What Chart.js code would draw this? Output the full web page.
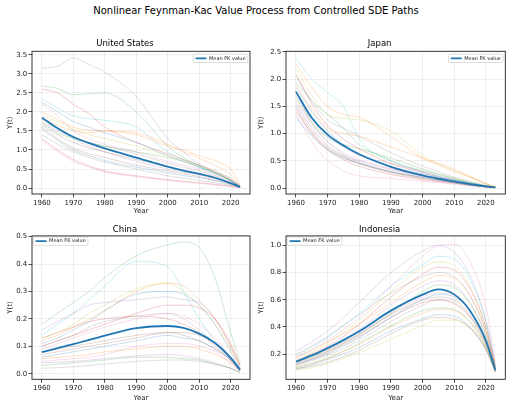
<!DOCTYPE html>
<html>
<head>
<meta charset="utf-8">
<script src="https://cdn.jsdelivr.net/npm/chart.js@4.4.1/dist/chart.umd.min.js"></script>
<style>
  body { margin: 0; background: #fff; width: 512px; height: 407px; position: relative; overflow: hidden; font-family: "DejaVu Sans", sans-serif; }
  #title { position: absolute; left: 0; top: 3px; width: 512px; text-align: center; font-size: 10px; line-height: 16px; color: #000; }
  canvas { position: absolute; }
</style>
</head>
<body>
<div id="title">Nonlinear Feynman-Kac Value Process from Controlled SDE Paths</div>
<canvas id="us" width="256" height="186" style="left:0;top:34px"></canvas>
<canvas id="jp" width="258" height="186" style="left:254px;top:34px"></canvas>
<canvas id="cn" width="256" height="186" style="left:0;top:220px"></canvas>
<canvas id="id" width="258" height="186" style="left:254px;top:220px"></canvas>
<script>
// sample years shared by every path
const years = [1960, 1965, 1970, 1975, 1980, 1990, 2000, 2005, 2010, 2015, 2020, 2023];
const xTicks = [1960, 1970, 1980, 1990, 2000, 2010, 2020];

const usTicks = [0, 0.5, 1, 1.5, 2, 2.5, 3, 3.5];
const jpTicks = [0, 0.5, 1, 1.5, 2, 2.5];
const cnTicks = [0, 0.1, 0.2, 0.3, 0.4, 0.5];
const idTicks = [0.2, 0.4, 0.6, 0.8, 1.0];

// United States
const usMean = [1.85, 1.57, 1.34, 1.18, 1.04, 0.80, 0.56, 0.46, 0.37, 0.27, 0.13, 0.03];
const usPaths = [
  [2.25, 2.0, 1.75, 1.6, 1.45, 1.2, 0.85, 0.7, 0.55, 0.4, 0.2, 0.04],
  [2.0, 1.8, 1.6, 1.52, 1.5, 1.4, 1.1, 1.0, 0.85, 0.72, 0.5, 0.1],
  [2.68, 2.62, 2.45, 2.48, 2.5, 2.0, 1.1, 0.8, 0.6, 0.4, 0.2, 0.04],
  [2.6, 2.5, 2.2, 1.95, 1.6, 1.2, 0.9, 0.75, 0.6, 0.42, 0.22, 0.05],
  [3.15, 3.2, 3.42, 3.25, 3.05, 2.4, 1.3, 0.95, 0.62, 0.45, 0.25, 0.05],
  [1.65, 1.4, 1.2, 1.05, 0.95, 0.75, 0.55, 0.45, 0.35, 0.25, 0.12, 0.02],
  [2.2, 1.9, 1.5, 1.3, 1.15, 0.95, 0.7, 0.6, 0.5, 0.35, 0.18, 0.03],
  [1.75, 1.55, 1.35, 1.2, 1.1, 0.9, 0.65, 0.55, 0.45, 0.32, 0.16, 0.03],
  [1.9, 1.75, 1.55, 1.4, 1.3, 1.1, 0.85, 0.72, 0.6, 0.45, 0.25, 0.05],
  [2.35, 2.1, 1.9, 1.82, 1.78, 1.6, 0.95, 0.75, 0.55, 0.38, 0.2, 0.04],
  [1.55, 1.25, 1.0, 0.85, 0.72, 0.55, 0.4, 0.33, 0.27, 0.2, 0.1, 0.02],
  [1.8, 1.65, 1.5, 1.45, 1.5, 1.45, 1.15, 0.95, 0.78, 0.6, 0.35, 0.06],
  [1.7, 1.45, 1.3, 1.2, 1.1, 0.95, 0.8, 0.7, 0.55, 0.4, 0.2, 0.04],
  [1.3, 1.0, 0.75, 0.58, 0.45, 0.32, 0.22, 0.18, 0.14, 0.1, 0.05, 0.01],
  [1.7, 1.5, 1.3, 1.1, 0.95, 0.7, 0.5, 0.42, 0.35, 0.25, 0.12, 0.02],
  [1.6, 1.3, 1.05, 0.9, 0.8, 0.6, 0.45, 0.38, 0.3, 0.2, 0.1, 0.02],
  [1.25, 0.95, 0.7, 0.55, 0.42, 0.3, 0.2, 0.16, 0.12, 0.08, 0.04, 0.01],
  [1.4, 1.15, 0.95, 0.8, 0.68, 0.5, 0.32, 0.26, 0.2, 0.14, 0.07, 0.01]
];

// Japan
const jpMean = [1.77, 1.29, 0.98, 0.78, 0.62, 0.39, 0.23, 0.17, 0.12, 0.07, 0.03, 0.01];
const jpPaths = [
  [1.85, 1.4, 1.05, 0.8, 0.62, 0.4, 0.26, 0.2, 0.14, 0.08, 0.03, 0.01],
  [2.28, 1.85, 1.5, 1.35, 1.3, 0.95, 0.55, 0.42, 0.3, 0.2, 0.08, 0.02],
  [1.95, 1.6, 1.35, 1.1, 0.8, 0.5, 0.32, 0.25, 0.17, 0.1, 0.04, 0.01],
  [2.1, 1.55, 1.15, 0.9, 0.72, 0.45, 0.28, 0.2, 0.14, 0.08, 0.03, 0.01],
  [1.7, 1.25, 0.95, 0.75, 0.6, 0.45, 0.3, 0.22, 0.15, 0.09, 0.04, 0.01],
  [1.5, 1.05, 0.75, 0.58, 0.45, 0.28, 0.17, 0.13, 0.09, 0.05, 0.02, 0.01],
  [1.6, 1.15, 0.85, 0.65, 0.52, 0.35, 0.22, 0.17, 0.12, 0.07, 0.03, 0.01],
  [1.75, 1.2, 0.85, 0.62, 0.48, 0.3, 0.19, 0.14, 0.1, 0.06, 0.02, 0.01],
  [2.2, 1.7, 1.35, 1.28, 1.25, 1.05, 0.6, 0.45, 0.32, 0.2, 0.08, 0.02],
  [2.38, 2.0, 1.75, 1.5, 0.9, 0.5, 0.3, 0.22, 0.15, 0.09, 0.04, 0.01],
  [1.3, 0.95, 0.7, 0.55, 0.45, 0.3, 0.2, 0.15, 0.1, 0.06, 0.02, 0.01],
  [1.9, 1.45, 1.1, 1.0, 0.95, 0.75, 0.55, 0.45, 0.35, 0.22, 0.08, 0.02],
  [1.65, 1.2, 0.92, 0.8, 0.72, 0.55, 0.35, 0.26, 0.18, 0.1, 0.04, 0.01],
  [1.45, 1.0, 0.7, 0.52, 0.4, 0.25, 0.15, 0.12, 0.09, 0.05, 0.02, 0.01],
  [1.55, 1.1, 0.78, 0.6, 0.5, 0.34, 0.22, 0.16, 0.11, 0.06, 0.02, 0.01],
  [1.4, 1.0, 0.72, 0.56, 0.45, 0.3, 0.19, 0.15, 0.11, 0.06, 0.02, 0.01],
  [1.35, 0.85, 0.5, 0.32, 0.22, 0.18, 0.12, 0.1, 0.07, 0.04, 0.02, 0.01],
  [2.05, 1.6, 1.25, 1.1, 0.95, 0.65, 0.4, 0.3, 0.2, 0.12, 0.05, 0.01]
];

// China
const cnMean = [0.079, 0.093, 0.108, 0.123, 0.139, 0.166, 0.174, 0.167, 0.146, 0.112, 0.058, 0.015];
const cnPaths = [
  [0.06, 0.07, 0.08, 0.09, 0.1, 0.12, 0.14, 0.13, 0.12, 0.09, 0.05, 0.01],
  [0.12, 0.14, 0.17, 0.2, 0.23, 0.3, 0.33, 0.32, 0.27, 0.2, 0.1, 0.03],
  [0.18, 0.22, 0.26, 0.3, 0.35, 0.43, 0.47, 0.48, 0.46, 0.35, 0.15, 0.04],
  [0.1, 0.12, 0.14, 0.16, 0.18, 0.22, 0.25, 0.25, 0.24, 0.2, 0.11, 0.03],
  [0.16, 0.19, 0.22, 0.25, 0.26, 0.27, 0.28, 0.27, 0.26, 0.2, 0.1, 0.03],
  [0.07, 0.08, 0.09, 0.1, 0.11, 0.13, 0.15, 0.14, 0.12, 0.09, 0.05, 0.01],
  [0.09, 0.11, 0.13, 0.15, 0.17, 0.2, 0.22, 0.21, 0.18, 0.13, 0.06, 0.02],
  [0.1, 0.12, 0.14, 0.17, 0.19, 0.21, 0.22, 0.2, 0.16, 0.11, 0.05, 0.01],
  [0.13, 0.15, 0.18, 0.22, 0.25, 0.31, 0.33, 0.3, 0.25, 0.18, 0.09, 0.03],
  [0.14, 0.18, 0.22, 0.27, 0.32, 0.41, 0.39, 0.3, 0.2, 0.12, 0.06, 0.02],
  [0.11, 0.13, 0.16, 0.19, 0.23, 0.29, 0.3, 0.29, 0.25, 0.18, 0.08, 0.02],
  [0.055, 0.06, 0.065, 0.07, 0.08, 0.09, 0.1, 0.1, 0.09, 0.07, 0.04, 0.01],
  [0.03, 0.035, 0.04, 0.045, 0.05, 0.06, 0.06, 0.055, 0.05, 0.035, 0.02, 0.005],
  [0.13, 0.15, 0.17, 0.19, 0.2, 0.21, 0.2, 0.18, 0.15, 0.1, 0.05, 0.01],
  [0.04, 0.042, 0.045, 0.05, 0.055, 0.065, 0.07, 0.065, 0.055, 0.04, 0.02, 0.005],
  [0.08, 0.09, 0.1, 0.11, 0.12, 0.14, 0.15, 0.15, 0.14, 0.11, 0.06, 0.015],
  [0.045, 0.05, 0.055, 0.06, 0.07, 0.1, 0.11, 0.11, 0.1, 0.08, 0.04, 0.01],
  [0.02, 0.022, 0.025, 0.03, 0.035, 0.045, 0.05, 0.05, 0.045, 0.035, 0.02, 0.005]
];

// Indonesia
const idMean = [0.144, 0.19, 0.244, 0.303, 0.368, 0.52, 0.638, 0.677, 0.64, 0.52, 0.30, 0.082];
const idPaths = [
  [0.12, 0.16, 0.2, 0.26, 0.32, 0.47, 0.6, 0.64, 0.62, 0.52, 0.3, 0.08],
  [0.18, 0.23, 0.29, 0.35, 0.42, 0.58, 0.73, 0.78, 0.76, 0.63, 0.37, 0.1],
  [0.13, 0.17, 0.22, 0.28, 0.34, 0.5, 0.66, 0.71, 0.69, 0.57, 0.33, 0.09],
  [0.15, 0.2, 0.26, 0.33, 0.42, 0.62, 0.79, 0.84, 0.82, 0.68, 0.4, 0.11],
  [0.22, 0.29, 0.37, 0.47, 0.58, 0.8, 0.96, 1.0, 0.95, 0.78, 0.45, 0.12],
  [0.14, 0.18, 0.23, 0.29, 0.35, 0.49, 0.6, 0.62, 0.6, 0.49, 0.29, 0.08],
  [0.17, 0.23, 0.3, 0.38, 0.47, 0.7, 0.92, 1.0, 1.01, 0.88, 0.55, 0.15],
  [0.11, 0.15, 0.19, 0.24, 0.3, 0.44, 0.56, 0.6, 0.58, 0.48, 0.28, 0.08],
  [0.16, 0.21, 0.28, 0.36, 0.45, 0.66, 0.84, 0.88, 0.85, 0.7, 0.4, 0.1],
  [0.19, 0.25, 0.32, 0.41, 0.5, 0.7, 0.86, 0.92, 0.9, 0.75, 0.44, 0.12],
  [0.09, 0.12, 0.16, 0.2, 0.25, 0.37, 0.46, 0.49, 0.48, 0.4, 0.24, 0.07],
  [0.1, 0.13, 0.17, 0.22, 0.27, 0.4, 0.5, 0.53, 0.52, 0.43, 0.25, 0.07],
  [0.1, 0.13, 0.17, 0.22, 0.28, 0.41, 0.52, 0.54, 0.53, 0.44, 0.26, 0.07],
  [0.12, 0.16, 0.21, 0.27, 0.33, 0.47, 0.58, 0.6, 0.57, 0.47, 0.27, 0.07],
  [0.14, 0.19, 0.24, 0.31, 0.38, 0.56, 0.7, 0.74, 0.71, 0.58, 0.34, 0.09],
  [0.09, 0.11, 0.14, 0.18, 0.23, 0.35, 0.45, 0.47, 0.46, 0.39, 0.23, 0.07],
  [0.13, 0.17, 0.22, 0.28, 0.35, 0.5, 0.62, 0.65, 0.63, 0.52, 0.31, 0.09],
  [0.2, 0.26, 0.33, 0.41, 0.49, 0.65, 0.77, 0.8, 0.77, 0.63, 0.37, 0.1],
  [0.08, 0.1, 0.13, 0.17, 0.21, 0.31, 0.41, 0.45, 0.45, 0.39, 0.24, 0.07]
];

const tab10 = ['31,119,180', '255,127,14', '44,160,44', '214,39,40', '148,103,189',
               '140,86,75', '227,119,194', '127,127,127', '188,189,34', '23,190,207'];

Chart.defaults.font.family = '"DejaVu Sans", sans-serif';
Chart.defaults.color = '#000';

// axes box and an in-plot legend with a frame, like matplotlib
const framePlugin = {
  id: 'frame',
  beforeDraw(chart) {
    const legend = chart.legend;
    const hb = legend && legend.legendHitBoxes && legend.legendHitBoxes[0];
    if (!hb) return;
    // hold the legend back so it can be drawn above the lines
    if (!legend._realDraw) {
      legend._realDraw = legend.draw;
      legend.draw = function () {};
    }
    const a = chart.chartArea;
    const w = hb.width + 4.5, h = 8.4;
    let fx, fy;
    if (chart.options.plugins.frame.legendRight) {
      fx = a.right - 2.2 - w;
      fy = a.top + 2.8;
    } else {
      fx = a.left + 1.3;
      fy = a.top + 1.0;
    }
    const dx = fx + 2.3 - hb.left;
    const dy = fy + h / 2 - (hb.top + hb.height / 2);
    legend.left += dx; legend.right += dx;
    legend.top += dy; legend.bottom += dy;
    hb.left += dx; hb.top += dy;
    chart.$legendFrame = { x: fx, y: fy, w: w, h: h };
  },
  afterDraw(chart) {
    const { ctx, chartArea: a, legend } = chart;
    ctx.save();
    const f = chart.$legendFrame;
    if (f) {
      ctx.fillStyle = 'rgba(255,255,255,0.85)';
      ctx.strokeStyle = '#d4d4d4';
      ctx.lineWidth = 0.8;
      ctx.beginPath();
      ctx.roundRect(f.x, f.y, f.w, f.h, 1.5);
      ctx.fill();
      ctx.stroke();
      legend._realDraw.call(legend);
    }
    ctx.strokeStyle = '#222';
    ctx.lineWidth = 0.9;
    ctx.strokeRect(a.left, a.top, a.right - a.left, a.bottom - a.top);
    ctx.restore();
  }
};

function toPoints(vals) {
  return years.map((x, i) => ({ x: x, y: vals[i] }));
}

function makePanel(id, name, mean, paths, yTicks, yMin, yMax, legendRight, lay) {
  const datasets = [{
    label: 'Mean FK value',
    data: toPoints(mean),
    borderColor: '#1f77b4',
    borderWidth: 1.8,
    pointRadius: 0,
    pointStyle: 'line',
    cubicInterpolationMode: 'monotone'
  }];
  paths.forEach((p, k) => {
    datasets.push({
      label: 'path ' + (k + 1),
      data: toPoints(p),
      borderColor: 'rgba(' + tab10[k % 10] + ',0.3)',
      borderWidth: 0.8,
      pointRadius: 0,
      cubicInterpolationMode: 'monotone'
    });
  });

  const gridOpts = {
    color: 'rgba(176,176,176,0.35)',
    lineWidth: 0.6,
    tickColor: '#222',
    tickLength: 3.5,
    tickWidth: 0.8
  };

  new Chart(document.getElementById(id), {
    type: 'line',
    data: { datasets: datasets },
    options: {
      responsive: false,
      animation: false,
      layout: { padding: { left: 0, right: lay.right, top: 0, bottom: 0 } },
      plugins: {
        frame: { legendRight: legendRight },
        title: {
          display: true,
          text: name,
          font: { size: 8.5, weight: 'normal' },
          color: '#000',
          padding: { top: lay.tTop, bottom: lay.tBottom }
        },
        legend: {
          position: 'chartArea',
          align: 'start',
          labels: {
            filter: item => item.datasetIndex === 0,
            usePointStyle: true,
            pointStyle: 'line',
            pointStyleWidth: 11,
            font: { size: 5 },
            color: '#222',
            padding: 4
          }
        },
        tooltip: { enabled: false }
      },
      scales: {
        x: {
          type: 'linear',
          min: 1956.85,
          max: 2026.15,
          afterBuildTicks: s => { s.ticks = xTicks.map(v => ({ value: v })); },
          afterFit: s => { s.height = lay.xh; },
          ticks: { font: { size: 7 }, color: '#222', padding: 1, autoSkip: false, maxRotation: 0, callback: v => String(v) },
          grid: gridOpts,
          border: { display: false },
          title: { display: true, text: 'Year', font: { size: 7 }, color: '#222', padding: { top: 0, bottom: lay.yearB } }
        },
        y: {
          min: yMin,
          max: yMax,
          afterBuildTicks: s => { s.ticks = yTicks.map(v => ({ value: v })); },
          afterFit: s => { s.width = 32; },
          ticks: { font: { size: 7 }, color: '#222', padding: 1.2, callback: v => v.toFixed(1) },
          grid: gridOpts,
          border: { display: false },
          title: { display: true, text: 'Y(t)', font: { size: 7 }, color: '#222', padding: { top: lay.yLab, bottom: 0 } }
        }
      }
    },
    plugins: [framePlugin]
  });
}

const topLeft = { right: 6, tTop: 4.5, tBottom: 2.6, xh: 26, yearB: 4.8, yLab: 6.3 };
const topRight = { right: 6.7, tTop: 4.5, tBottom: 2.6, xh: 26, yearB: 4.8, yLab: 3.3 };
const botLeft = { right: 6, tTop: 4.2, tBottom: 1.5, xh: 26.7, yearB: 3.8, yLab: 6.0 };
const botRight = { right: 6.7, tTop: 4.2, tBottom: 1.5, xh: 26.7, yearB: 3.8, yLab: 2.8 };

makePanel('us', 'United States', usMean, usPaths, usTicks, -0.157, 3.594, true, topLeft);
makePanel('jp', 'Japan', jpMean, jpPaths, jpTicks, -0.11, 2.511, true, topRight);
makePanel('cn', 'China', cnMean, cnPaths, cnTicks, -0.0203, 0.5025, false, botLeft);
makePanel('id', 'Indonesia', idMean, idPaths, idTicks, 0.014, 1.071, false, botRight);
</script>
</body>
</html>
